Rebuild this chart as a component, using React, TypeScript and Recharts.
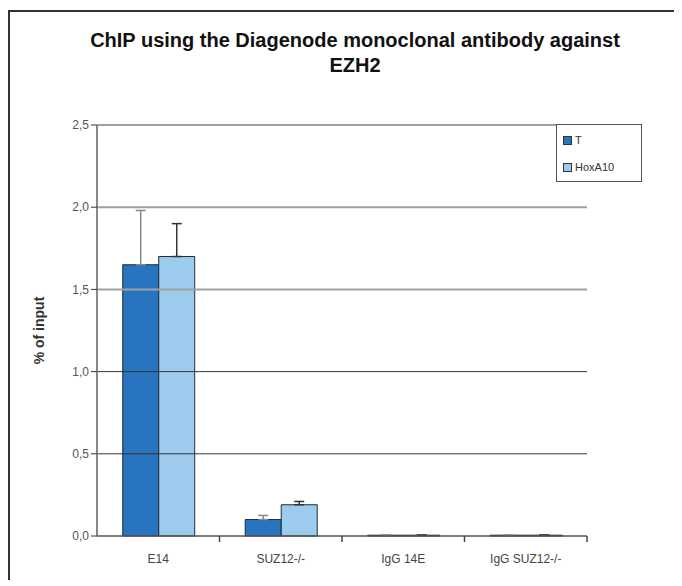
import React from 'react';
import { BarChart, Bar, XAxis, YAxis, ErrorBar, ReferenceLine } from 'recharts';

const categories = ['E14', 'SUZ12-/-', 'IgG 14E', 'IgG SUZ12-/-'];
const tValues = [1.65, 0.1, 0.005, 0.005];
const tErrors = [0.33, 0.025, 0, 0];
const hoxValues = [1.7, 0.19, 0.005, 0.005];
const hoxErrors = [0.2, 0.02, 0, 0];
const yTicks = [0, 0.5, 1.0, 1.5, 2.0, 2.5];
const seriesNames = ['T', 'HoxA10'];

const T_COLOR = '#2874BE';
const HOX_COLOR = '#9DCBEE';
const FONT = '"Liberation Sans", Arial, sans-serif';

const data = categories.map((name, i) => ({
  name,
  T: tValues[i],
  tErr: [0, tErrors[i]],
  HoxA10: hoxValues[i],
  hoxErr: [0, hoxErrors[i]],
}));

const CHART_W = 674;
const CHART_H = 570;
const margin = { top: 115, right: 95, bottom: 14, left: 39 };
const Y_W = 50;
const plotW = CHART_W - margin.left - margin.right - Y_W;
const band = plotW / categories.length;

const CategoryTick = ({ x, y, payload }: any) => (
  <g>
    <line x1={x + band / 2} y1={y - 8} x2={x + band / 2} y2={y - 2} stroke="#444" strokeWidth={1.5} />
    <text x={x} y={y + 19} textAnchor="middle" fontSize={12} fill="#444" fontFamily={FONT}>
      {payload.value}
    </text>
  </g>
);

// legend drawn as overlay so it doesn't push the plot area down
const LegendBox = () => (
  <div
    style={{
      position: 'absolute',
      left: 546,
      top: 112,
      width: 86,
      height: 58,
      border: '1px solid #555',
      background: '#fff',
      fontFamily: FONT,
      fontSize: 11,
      color: '#333',
      boxSizing: 'border-box',
      padding: '8px 0 0 6px',
    }}
  >
    {seriesNames.map((label, i) => (
      <div key={label} style={{ display: 'flex', alignItems: 'center', height: 14, marginBottom: i === 0 ? 13 : 0 }}>
        <span style={{ width: 7, height: 7, background: i === 0 ? T_COLOR : HOX_COLOR, border: '1px solid #333', marginRight: 3 }} />
        <span>{label}</span>
      </div>
    ))}
  </div>
);

export default function App() {
  return (
    <div
      style={{
        position: 'relative',
        width: CHART_W,
        height: CHART_H,
        borderLeft: '2px solid #333',
        borderTop: '2px solid #333',
        boxSizing: 'border-box',
        marginTop: 2,
        fontFamily: FONT,
      }}
    >
      <div
        style={{
          position: 'absolute',
          left: 0,
          top: 0,
          width: 690,
          textAlign: 'center',
          fontWeight: 'bold',
          fontSize: 20,
          lineHeight: '25px',
          paddingTop: 16,
          color: '#111',
        }}
      >
        ChIP using the Diagenode monoclonal antibody against
        <br />
        EZH2
      </div>
      <div style={{ position: 'absolute', left: -2, top: -2 }}>
        <BarChart
          width={CHART_W}
          height={CHART_H}
          data={data}
          margin={margin}
          barCategoryGap="21%"
          barGap={0}
        >
          {yTicks.slice(1).map((t) => (
            <ReferenceLine
              key={t}
              y={t}
              stroke={t >= 1.5 ? '#a0a0a0' : '#333'}
              strokeWidth={t >= 1.5 ? 2 : 1}
            />
          ))}
          <XAxis
            dataKey="name"
            tick={<CategoryTick />}
            tickLine={false}
            axisLine={{ stroke: '#555', strokeWidth: 1.5 }}
            interval={0}
            height={30}
          />
          <YAxis
            domain={[0, 2.5]}
            ticks={yTicks}
            width={Y_W}
            tickFormatter={(v: number) => v.toFixed(1).replace('.', ',')}
            tick={{ fontSize: 12, fill: '#555', fontFamily: FONT }}
            tickSize={6}
            tickLine={{ stroke: '#333' }}
            axisLine={{ stroke: '#888', strokeWidth: 2 }}
            label={{
              value: '% of input',
              angle: -90,
              position: 'insideLeft',
              offset: -8,
              style: { fontSize: 14, fontWeight: 'bold', fill: '#333', textAnchor: 'middle', fontFamily: FONT },
            }}
          />
          <YAxis
            yAxisId="right"
            orientation="right"
            domain={[0, 2.5]}
            width={0}
            tick={false}
            tickLine={false}
            axisLine={{ stroke: '#999', strokeWidth: 2 }}
          />
          <Bar dataKey="T" fill={T_COLOR} stroke="#1c2c3c" strokeWidth={1} isAnimationActive={false}>
            <ErrorBar dataKey="tErr" width={5} stroke="#888" strokeWidth={1.5} direction="y" />
          </Bar>
          <Bar dataKey="HoxA10" fill={HOX_COLOR} stroke="#1c2c3c" strokeWidth={1} isAnimationActive={false}>
            <ErrorBar dataKey="hoxErr" width={5} stroke="#333" strokeWidth={1.5} direction="y" />
          </Bar>
        </BarChart>
      </div>
      <LegendBox />
    </div>
  );
}
